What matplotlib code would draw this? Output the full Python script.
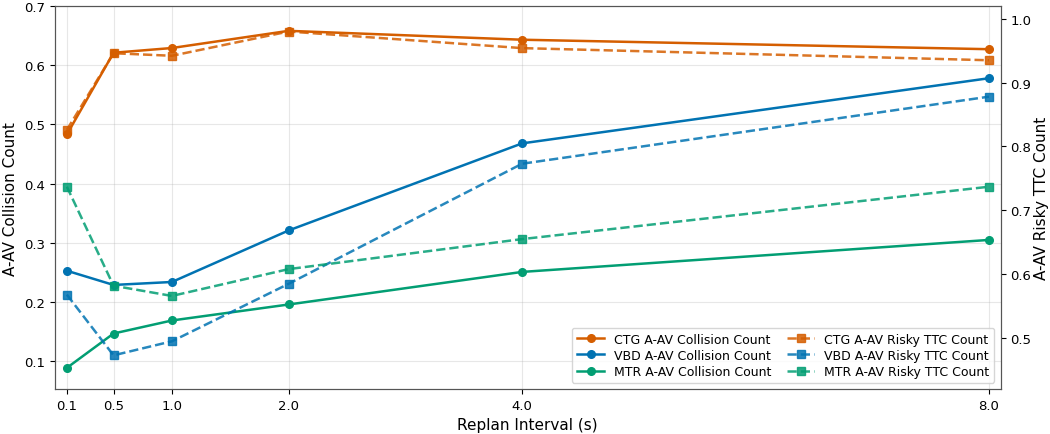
import numpy as np
import matplotlib
matplotlib.use("Agg")
import matplotlib.pyplot as plt

intervals = [0.1, 0.5, 1.0, 2.0, 4.0, 8.0]
methods = ['CTG', 'VBD', 'MTR']
collision = {
    'CTG': [0.483, 0.621, 0.629, 0.658, 0.643, 0.627],
    'VBD': [0.253, 0.229, 0.234, 0.321, 0.468, 0.578],
    'MTR': [0.089, 0.147, 0.169, 0.196, 0.251, 0.305],
}
risky_ttc = {
    'CTG': [0.826, 0.946, 0.942, 0.980, 0.954, 0.935],
    'VBD': [0.568, 0.473, 0.495, 0.585, 0.773, 0.878],
    'MTR': [0.737, 0.582, 0.566, 0.608, 0.655, 0.737],
}
colors = {'CTG': '#d55e00', 'VBD': '#0173b2', 'MTR': '#029e73'}

fig, ax = plt.subplots(figsize=(10.5, 4.35), dpi=100)
ax2 = ax.twinx()

handles = []
for m in methods:
    h, = ax.plot(intervals, collision[m], '-o', color=colors[m], lw=1.8, ms=5.5,
                 label=f'{m} A-AV Collision Count')
    handles.append(h)
for m in methods:
    h, = ax2.plot(intervals, risky_ttc[m], '--s', color=colors[m], lw=1.8, ms=5.5,
                  alpha=0.85, label=f'{m} A-AV Risky TTC Count')
    handles.append(h)

ax.set_xlim(-0.005, 8.1)
ax.set_ylim(0.053, 0.70)
ax2.set_ylim(0.42, 1.02)
ax.set_xticks(intervals)
ax.set_xticklabels([f'{v:.1f}' for v in intervals])
ax.tick_params(labelsize=9.5)
ax2.tick_params(labelsize=9.5)
ax.set_xlabel('Replan Interval (s)', fontsize=11)
ax.set_ylabel('A-AV Collision Count', fontsize=11)
ax2.set_ylabel('A-AV Risky TTC Count', fontsize=11, labelpad=2)
ax.grid(True, alpha=0.3)
for a in (ax, ax2):
    for s in a.spines.values():
        s.set_color('#555555')

ax2.legend(handles=handles, loc='lower right', ncol=2, fontsize=9,
           handlelength=2.2, columnspacing=1.2, labelspacing=0.25)

fig.subplots_adjust(left=0.052, right=0.953, top=0.984, bottom=0.103)
fig.savefig('out.png')
